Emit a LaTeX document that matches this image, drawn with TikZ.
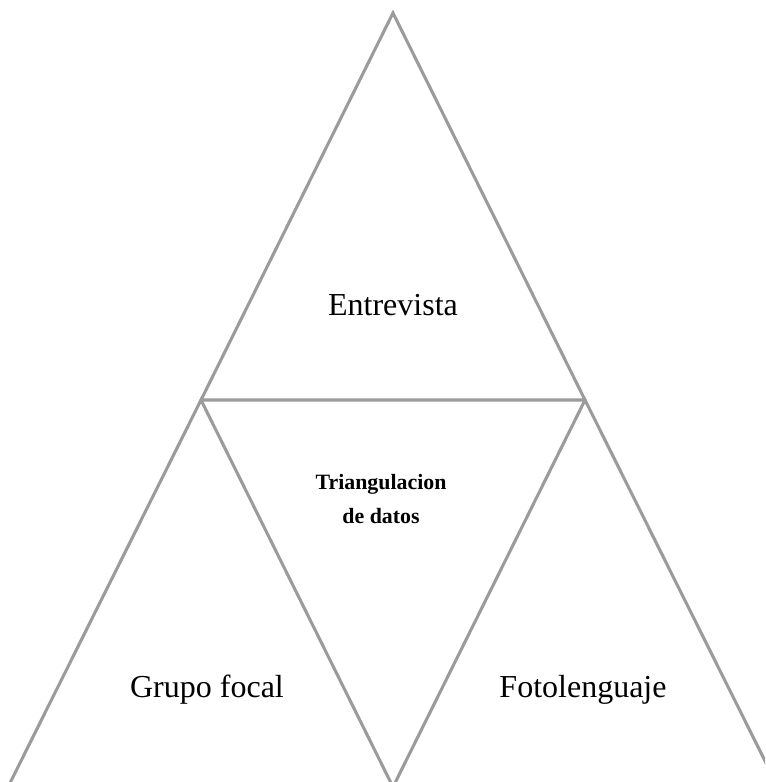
\documentclass[tikz,border=0pt]{standalone}
\usepackage{fontspec}
\setmainfont{Liberation Serif}
\usepackage{xcolor}
\usetikzlibrary{positioning}
\definecolor{edgegray}{RGB}{155,155,155}

\begin{document}
\begin{tikzpicture}[
			x=0.75pt, y=-0.75pt,
			side/.style={
				draw=edgegray,
				line width=2.3pt,
				line join=miter
			},
			label/.style={
				font=\fontsize{24}{28}\selectfont,
				align=center
			},
			core/.style={
				font=\bfseries\fontsize{16.4}{26}\selectfont,
				align=center
			}
			]
			
			% Page frame
			\useasboundingbox (0,0) rectangle (765,782);
			\clip (0,0) rectangle (765,782);
			
			% Corners
			\coordinate (top) at (393,13);
			\coordinate (midl) at (201,400);
			\coordinate (midr) at (585,400);
			\coordinate (botl) at (8,787);
			\coordinate (botm) at (393,787);
			\coordinate (botr) at (778,787);
			
			% Top triangle
			\draw[side] (top) -- (midl) -- (midr) -- cycle;
			
			% Left triangle
			\draw[side] (midl) -- (botl) -- (botm) -- cycle;
			
			% Right triangle
			\draw[side] (midr) -- (botm) -- (botr) -- cycle;
			
			% Texts
			\node[label] (entrevista) at (393,305) {Entrevista};
			\node[core] (centre) at (381,499) {Triangulacion\\de datos};
			\node[label] (grupo) at (207,690) {Grupo focal};
			\node[label] (foto) at (583,690) {Fotolenguaje};
			
		\end{tikzpicture}
\end{document}
